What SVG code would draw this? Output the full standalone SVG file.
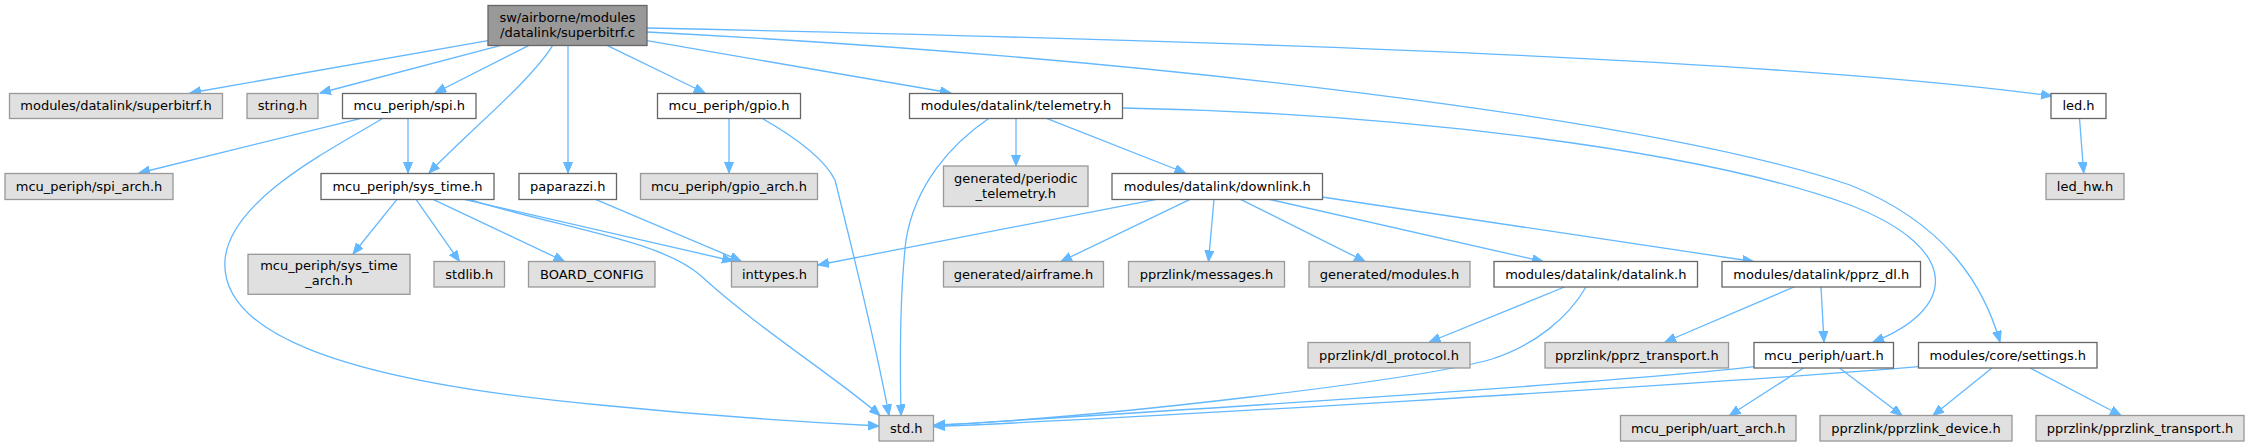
<svg xmlns="http://www.w3.org/2000/svg" width="2249" height="447" viewBox="0 0 2249 447">
<defs>
<marker id="ah" markerWidth="12" markerHeight="10" refX="11" refY="4.5" orient="auto" markerUnits="userSpaceOnUse"><path d="M0,0 L11,4.5 L0,9 z" fill="#63b8ff" stroke="#63b8ff" stroke-width="1"/></marker>
<style>
.e{fill:none;stroke:#63b8ff;stroke-width:1.3;marker-end:url(#ah)}
.w{fill:#ffffff;stroke:#666666;stroke-width:1.3}
.g{fill:#e0e0e0;stroke:#999999;stroke-width:1.3}
.r{fill:#999999;stroke:#666666;stroke-width:1.3}
text{font-family:"DejaVu Sans","Liberation Sans",sans-serif;font-size:13px;fill:#000;text-anchor:middle}
</style>
</defs>
<rect width="2249" height="447" fill="#ffffff"/>
<g id="connectors">
<path class="e" d="M488,40.7 L190,93"/>
<path class="e" d="M500,45.7 L320,93"/>
<path class="e" d="M528.5,45.7 L435,93"/>
<path class="e" d="M552.5,45.7 C530,82 470,130 429,173"/>
<path class="e" d="M568,45.7 L568,173"/>
<path class="e" d="M607.5,45.7 L705,93"/>
<path class="e" d="M647,40.7 L951,93"/>
<path class="e" d="M647,28 C1100,38 1750,55 2052,96"/>
<path class="e" d="M647,32 C1150,58 1650,118 1850,185 C1950,225 1985,290 2000,342"/>
<path class="e" d="M1123,108 C1400,113 1700,150 1850,205 C1965,250 1955,310 1873,342"/>
<path class="e" d="M361,118.3 L139,173"/>
<path class="e" d="M408,118.3 L408,173"/>
<path class="e" d="M383,118.3 C330,150 230,200 225,260 C220,330 330,380 600,405 C700,415 800,422 879,426"/>
<path class="e" d="M397,199.3 L353,254"/>
<path class="e" d="M416,199.3 L459.5,261.5"/>
<path class="e" d="M433,199.3 L564.5,261.5"/>
<path class="e" d="M464,199.3 L733,261"/>
<path class="e" d="M469,199.3 C560,228 660,240 700,275 C760,330 840,380 880,415.5"/>
<path class="e" d="M595.5,199.3 L741,261"/>
<path class="e" d="M729,118.3 L729,173"/>
<path class="e" d="M762,118.3 C800,140 825,160 835,180 C850,240 875,340 889,415.5"/>
<path class="e" d="M1016,118.3 L1016,166"/>
<path class="e" d="M1046.5,118.3 L1185.5,173"/>
<path class="e" d="M989,118.3 C950,145 915,185 906,240 C899,300 900,370 901,415.5"/>
<path class="e" d="M1156.5,199.3 L818,265"/>
<path class="e" d="M1190,199.3 L1061,261.5"/>
<path class="e" d="M1214,199.3 L1208.5,261.5"/>
<path class="e" d="M1240.5,199.3 L1365,261.5"/>
<path class="e" d="M1269,199.3 L1543,261.5"/>
<path class="e" d="M1322,197 L1753.5,261.5"/>
<path class="e" d="M1564.5,287 L1429.5,342"/>
<path class="e" d="M1586,287 C1568,318 1535,345 1492,359 C1420,380 1100,418 934,425"/>
<path class="e" d="M1794,287 L1665,342"/>
<path class="e" d="M1821,287 L1824,342"/>
<path class="e" d="M2079.5,118.3 L2083.7,173"/>
<path class="e" d="M1754,366.7 C1600,385 1100,415 934,425.5"/>
<path class="e" d="M1918.5,366.7 C1700,385 1100,420 934,426.5"/>
<path class="e" d="M1803.5,368 L1729.5,415.5"/>
<path class="e" d="M1839.5,368 L1902,415.5"/>
<path class="e" d="M1992,368 L1933,415.5"/>
<path class="e" d="M2030,368 L2121,415.5"/>
</g>
<g id="root"><rect class="r" x="488" y="5.5" width="159" height="40"/><text x="567.5" y="21.5">sw/airborne/modules</text><text x="567.5" y="36.5">/datalink/superbitrf.c</text></g>
<g id="superbitrf_h"><rect class="g" x="9.5" y="93.5" width="213" height="25"/><text x="116" y="110.3">modules/datalink/superbitrf.h</text></g>
<g id="string_h"><rect class="g" x="247" y="93.5" width="71" height="25"/><text x="282.5" y="110.3">string.h</text></g>
<g id="spi_h"><rect class="w" x="342.5" y="93.5" width="133.5" height="25"/><text x="409.3" y="110.3">mcu_periph/spi.h</text></g>
<g id="gpio_h"><rect class="w" x="657.5" y="93.5" width="143" height="25"/><text x="729" y="110.3">mcu_periph/gpio.h</text></g>
<g id="telemetry_h"><rect class="w" x="909.5" y="93.5" width="213" height="25"/><text x="1016" y="110.3">modules/datalink/telemetry.h</text></g>
<g id="led_h"><rect class="w" x="2051" y="93.5" width="55" height="25"/><text x="2078.5" y="110.3">led.h</text></g>
<g id="spi_arch_h"><rect class="g" x="5" y="173.5" width="168" height="26"/><text x="89" y="190.8">mcu_periph/spi_arch.h</text></g>
<g id="sys_time_h"><rect class="w" x="321" y="173.5" width="173" height="26"/><text x="407.5" y="190.8">mcu_periph/sys_time.h</text></g>
<g id="paparazzi_h"><rect class="w" x="519" y="173.5" width="97.5" height="26"/><text x="567.8" y="190.8">paparazzi.h</text></g>
<g id="gpio_arch_h"><rect class="g" x="640.5" y="173.5" width="177" height="26"/><text x="729" y="190.8">mcu_periph/gpio_arch.h</text></g>
<g id="periodic_telemetry_h"><rect class="g" x="943.5" y="166" width="144.5" height="40.5"/><text x="1015.8" y="182.5">generated/periodic</text><text x="1015.8" y="197.5">_telemetry.h</text></g>
<g id="downlink_h"><rect class="w" x="1112" y="173.5" width="210.5" height="26"/><text x="1217.3" y="190.8">modules/datalink/downlink.h</text></g>
<g id="led_hw_h"><rect class="g" x="2046" y="173.5" width="78" height="26"/><text x="2085" y="190.8">led_hw.h</text></g>
<g id="sys_time_arch_h"><rect class="g" x="248" y="254.3" width="162" height="40"/><text x="329" y="270.3">mcu_periph/sys_time</text><text x="329" y="285.3">_arch.h</text></g>
<g id="stdlib_h"><rect class="g" x="434" y="261.5" width="70.5" height="25.5"/><text x="469.3" y="278.5">stdlib.h</text></g>
<g id="board_config"><rect class="g" x="528.5" y="261.5" width="126.5" height="25.5"/><text x="591.8" y="278.5">BOARD_CONFIG</text></g>
<g id="inttypes_h"><rect class="g" x="731.5" y="261.5" width="86" height="25.5"/><text x="774.5" y="278.5">inttypes.h</text></g>
<g id="airframe_h"><rect class="g" x="943.5" y="261.5" width="160" height="25.5"/><text x="1023.5" y="278.5">generated/airframe.h</text></g>
<g id="messages_h"><rect class="g" x="1128.5" y="261.5" width="156" height="25.5"/><text x="1206.5" y="278.5">pprzlink/messages.h</text></g>
<g id="modules_h"><rect class="g" x="1309" y="261.5" width="161" height="25.5"/><text x="1389.5" y="278.5">generated/modules.h</text></g>
<g id="datalink_h"><rect class="w" x="1494" y="261.5" width="203.5" height="25.5"/><text x="1595.8" y="278.5">modules/datalink/datalink.h</text></g>
<g id="pprz_dl_h"><rect class="w" x="1722" y="261.5" width="198.5" height="25.5"/><text x="1821.3" y="278.5">modules/datalink/pprz_dl.h</text></g>
<g id="dl_protocol_h"><rect class="g" x="1308" y="342.5" width="162" height="25.5"/><text x="1389" y="359.5">pprzlink/dl_protocol.h</text></g>
<g id="pprz_transport_h"><rect class="g" x="1545" y="342.5" width="183.5" height="25.5"/><text x="1636.8" y="359.5">pprzlink/pprz_transport.h</text></g>
<g id="uart_h"><rect class="w" x="1754" y="342.5" width="139.5" height="25.5"/><text x="1823.8" y="359.5">mcu_periph/uart.h</text></g>
<g id="settings_h"><rect class="w" x="1918.5" y="342.5" width="178.5" height="25.5"/><text x="2007.8" y="359.5">modules/core/settings.h</text></g>
<g id="std_h"><rect class="g" x="879" y="415.5" width="54.5" height="25.5"/><text x="906.3" y="432.5">std.h</text></g>
<g id="uart_arch_h"><rect class="g" x="1620.5" y="415.5" width="175.5" height="25.5"/><text x="1708.3" y="432.5">mcu_periph/uart_arch.h</text></g>
<g id="pprzlink_device_h"><rect class="g" x="1820" y="415.5" width="192" height="25.5"/><text x="1916" y="432.5">pprzlink/pprzlink_device.h</text></g>
<g id="pprzlink_transport_h"><rect class="g" x="2036" y="415.5" width="208" height="25.5"/><text x="2140" y="432.5">pprzlink/pprzlink_transport.h</text></g>
</svg>
